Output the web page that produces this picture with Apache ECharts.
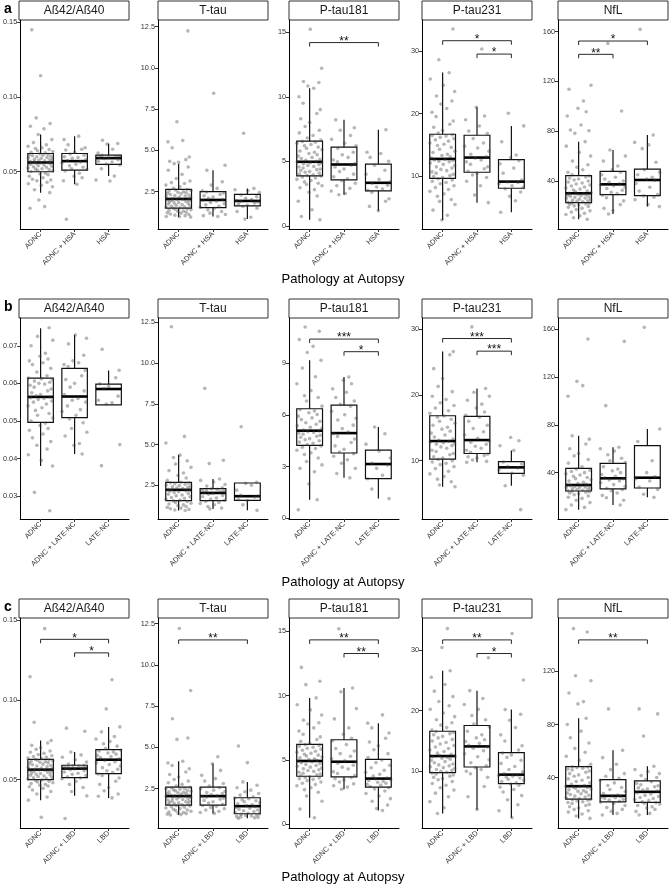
<!DOCTYPE html>
<html>
<head>
<meta charset="utf-8">
<script src="https://cdn.jsdelivr.net/npm/echarts@6/dist/echarts.min.js"></script>
<style>
  html, body { margin: 0; padding: 0; background: #fff; }
  #chart { width: 670px; height: 885px; }
</style>
</head>
<body>
<div id="chart"></div>
<script>
const MARKERS = ['Aß42/Aß40', 'T-tau', 'P-tau181', 'P-tau231', 'NfL'];
const ROW_LETTERS = ['a', 'b', 'c'];
const GROUPS = [
  ['ADNC', 'ADNC + HSA', 'HSA'],
  ['ADNC', 'ADNC + LATE-NC', 'LATE-NC'],
  ['ADNC', 'ADNC + LBD', 'LBD'],
];
const X_TITLE = 'Pathology at Autopsy';

// tick labels per row, per marker
const Y_TICKS = [
  [['0.05', '0.10', '0.15'], ['2.5', '5.0', '7.5', '10.0', '12.5'], ['0', '5', '10', '15'], ['10', '20', '30'], ['40', '80', '120', '160']],
  [['0.03', '0.04', '0.05', '0.06', '0.07'], ['2.5', '5.0', '7.5', '10.0', '12.5'], ['0', '3', '6', '9'], ['10', '20', '30'], ['40', '80', '120', '160']],
  [['0.05', '0.10', '0.15'], ['2.5', '5.0', '7.5', '10.0', '12.5'], ['0', '5', '10', '15'], ['10', '20', '30'], ['40', '80', '120']],
];
const Y_RANGE = [
  [[0.0117, 0.1515], [0.24, 12.9], [-0.25, 15.95], [1.6, 34.9], [1.4, 169.4]],
  [[0.0239, 0.0774], [0.43, 12.77], [-0.03, 11.6], [1.14, 31.7], [1.3, 169.2]],
  [[0.0196, 0.1515], [0.106, 12.84], [-0.28, 16.04], [0.66, 35.25], [2, 160.25]],
];

// box stats [lower whisker, q1, median, q3, upper whisker] per marker, per group
const BOX_A = [
  [[0.036, 0.050, 0.0562, 0.0622, 0.0749], [0.0416, 0.0511, 0.0571, 0.0622, 0.0738], [0.0471, 0.0549, 0.0591, 0.0611, 0.0689]],
  [[0.96, 1.5, 2.06, 2.64, 4.2], [1.0, 1.54, 2.0, 2.5, 3.8], [0.84, 1.64, 1.94, 2.34, 2.7]],
  [[0.46, 3.87, 4.96, 6.56, 10.66], [2.4, 3.56, 4.75, 6.09, 8.21], [1.16, 2.71, 3.33, 4.78, 7.44]],
  [[3.03, 9.68, 12.77, 16.7, 26.54], [5.8, 10.64, 12.98, 16.54, 21.0], [4.26, 8.09, 9.15, 12.66, 18.03]],
  [[9.2, 22.6, 30.1, 44.3, 71.6], [13.5, 29.0, 37.3, 47.8, 64.9], [19.4, 28.2, 40.8, 49.6, 77]],
];
const BOX_B = [
  [[0.038, 0.0496, 0.0564, 0.0614, 0.0747], [0.0412, 0.0509, 0.0565, 0.064, 0.0729], [0.0543, 0.0543, 0.0585, 0.0598, 0.0634]],
  [[0.95, 1.56, 2.22, 2.68, 4.37], [1.05, 1.56, 2.03, 2.29, 2.89], [0.96, 1.57, 1.83, 2.64, 2.64]],
  [[1.08, 4.23, 5.08, 6.35, 9.15], [2.35, 3.79, 4.94, 6.56, 8.19], [1.15, 2.31, 3.15, 3.96, 5.29]],
  [[6.05, 10.25, 12.99, 16.84, 26.6], [9.75, 11.1, 13.14, 16.73, 20.99], [6.2, 8.08, 8.99, 9.85, 11.57]],
  [[9.1, 24.7, 29.7, 43.6, 70.9], [13, 26.4, 35.3, 47.8, 61.2], [19.4, 27.2, 35.8, 62.6, 76.5]],
];
const BOX_C = [
  [[0.0371, 0.05, 0.05625, 0.0627, 0.0746], [0.0398, 0.0513, 0.0569, 0.059, 0.0673], [0.0385, 0.0538, 0.0625, 0.0688, 0.0831]],
  [[0.89, 1.49, 2.04, 2.58, 4.15], [0.99, 1.49, 2.04, 2.58, 4.0], [0.69, 0.97, 1.43, 1.94, 2.9]],
  [[0.52, 3.74, 4.93, 6.22, 9.83], [2.73, 3.69, 4.87, 6.58, 10.6], [1.08, 2.89, 3.56, 5.06, 7.87]],
  [[3.06, 9.78, 12.51, 16.6, 26.56], [3.72, 10.71, 14.1, 17.54, 23.28], [2.35, 7.98, 9.45, 13.06, 20.16]],
  [[9.25, 23.75, 33.5, 48.25, 84.75], [11.75, 21.75, 26.25, 38.5, 60.5], [11.75, 21.25, 29.25, 37.5, 48.5]],
];

// individual observations per marker, per group
const PTS_A = [
  [
    [0.0256, 0.0267, 0.0311, 0.036, 0.038, 0.040, 0.041, 0.042, 0.043, 0.044, 0.0445, 0.045, 0.046, 0.047, 0.048, 0.0485, 0.049, 0.0502, 0.0506, 0.051, 0.0514, 0.0518, 0.052, 0.0525, 0.053, 0.0533, 0.0537, 0.054, 0.0545, 0.055, 0.0553, 0.0556, 0.0558, 0.056, 0.0561, 0.0564, 0.0567, 0.057, 0.0573, 0.0576, 0.058, 0.0583, 0.0586, 0.059, 0.0593, 0.0596, 0.06, 0.0604, 0.0607, 0.061, 0.0614, 0.0617, 0.062, 0.0626, 0.063, 0.0635, 0.064, 0.0648, 0.0655, 0.066, 0.067, 0.068, 0.0695, 0.0715, 0.0749, 0.0787, 0.0804, 0.0822, 0.086, 0.1142, 0.1449],
    [0.0182, 0.0416, 0.044, 0.046, 0.047, 0.049, 0.0505, 0.0515, 0.052, 0.053, 0.054, 0.055, 0.056, 0.0565, 0.0575, 0.058, 0.059, 0.0595, 0.060, 0.061, 0.0618, 0.063, 0.0645, 0.065, 0.066, 0.068, 0.0715, 0.0738],
    [0.0438, 0.0444, 0.0471, 0.052, 0.0545, 0.0552, 0.0565, 0.057, 0.058, 0.0588, 0.0594, 0.0598, 0.060, 0.0605, 0.061, 0.0625, 0.065, 0.0685, 0.0689, 0.0711],
  ],
  [
    [0.96, 0.98, 1.0, 1.05, 1.08, 1.12, 1.15, 1.2, 1.22, 1.25, 1.3, 1.33, 1.37, 1.4, 1.43, 1.46, 1.49, 1.52, 1.55, 1.58, 1.62, 1.65, 1.68, 1.72, 1.75, 1.78, 1.82, 1.85, 1.88, 1.92, 1.95, 1.98, 2.0, 2.03, 2.05, 2.08, 2.1, 2.14, 2.17, 2.2, 2.24, 2.27, 2.3, 2.33, 2.37, 2.4, 2.44, 2.47, 2.5, 2.54, 2.57, 2.6, 2.63, 2.7, 2.8, 2.9, 3.0, 3.05, 3.15, 3.3, 3.55, 3.8, 4.0, 4.2, 4.28, 4.34, 4.44, 4.6, 5.16, 5.52, 5.6, 6.74, 12.24],
    [1.0, 1.05, 1.12, 1.2, 1.3, 1.4, 1.5, 1.56, 1.62, 1.7, 1.78, 1.85, 1.92, 1.98, 2.02, 2.1, 2.18, 2.25, 2.33, 2.42, 2.48, 2.55, 2.7, 2.9, 3.1, 3.8, 4.1, 8.46],
    [0.84, 0.95, 1.3, 1.5, 1.6, 1.68, 1.75, 1.82, 1.88, 1.92, 1.96, 2.02, 2.1, 2.2, 2.3, 2.45, 2.55, 2.62, 2.7, 6.04],
  ],
  [
    [0.46, 0.72, 1.24, 1.9, 2.3, 2.6, 2.8, 2.95, 3.1, 3.2, 3.3, 3.4, 3.5, 3.6, 3.7, 3.78, 3.85, 3.9, 3.95, 4.0, 4.08, 4.15, 4.2, 4.28, 4.35, 4.4, 4.48, 4.55, 4.6, 4.68, 4.75, 4.8, 4.86, 4.9, 4.94, 5.0, 5.08, 5.15, 5.22, 5.3, 5.4, 5.5, 5.6, 5.7, 5.8, 5.9, 6.0, 6.1, 6.2, 6.3, 6.4, 6.48, 6.54, 6.65, 6.8, 7.0, 7.2, 7.4, 7.7, 8.0, 8.3, 8.7, 9.0, 9.5, 10.0, 10.66, 10.84, 11.1, 11.18, 12.21, 15.23],
    [2.4, 2.5, 2.7, 2.9, 3.1, 3.3, 3.5, 3.65, 3.8, 4.0, 4.2, 4.4, 4.55, 4.7, 4.8, 4.95, 5.1, 5.3, 5.5, 5.7, 6.0, 6.2, 6.4, 6.7, 7.0, 7.4, 7.6, 8.21],
    [1.16, 1.5, 1.9, 2.1, 2.6, 2.75, 2.85, 3.0, 3.15, 3.3, 3.4, 3.6, 4.0, 4.3, 4.7, 5.0, 5.3, 5.6, 5.7, 7.44],
  ],
  [
    [3.03, 3.8, 4.6, 5.5, 6.0, 6.3, 6.8, 7.2, 7.6, 7.9, 8.2, 8.5, 8.8, 9.0, 9.2, 9.4, 9.6, 9.8, 9.95, 10.1, 10.3, 10.5, 10.7, 10.9, 11.1, 11.3, 11.5, 11.7, 11.9, 12.1, 12.3, 12.4, 12.5, 12.6, 12.7, 12.9, 13.1, 13.3, 13.5, 13.8, 14.0, 14.3, 14.6, 14.9, 15.1, 15.3, 15.6, 15.8, 16.0, 16.2, 16.4, 16.5, 16.6, 16.9, 17.3, 17.8, 18.3, 18.8, 19.5, 20.2, 20.8, 21.5, 22.0, 22.8, 23.5, 24.5, 25.5, 26.5, 28.56, 33.46],
    [5.8, 7.0, 8.5, 9.2, 9.8, 10.2, 10.5, 10.8, 11.2, 11.5, 11.9, 12.3, 12.6, 12.9, 13.1, 13.5, 14.0, 14.5, 14.8, 15.3, 16.0, 16.8, 17.2, 18.0, 19.0, 19.6, 21.0, 30.27],
    [4.26, 6.1, 6.8, 7.5, 8.0, 8.2, 8.5, 8.8, 9.0, 9.1, 9.4, 10.5, 11.3, 12.0, 12.5, 13.0, 13.4, 15.5, 18.03, 20.05],
  ],
  [
    [9.2, 10.5, 12, 13, 14, 15, 16, 17, 18, 18.8, 19.5, 20, 20.6, 21.2, 21.7, 22.1, 22.4, 22.8, 23.2, 23.6, 24, 24.5, 25, 25.4, 25.9, 26.3, 26.8, 27.2, 27.7, 28.1, 28.5, 28.9, 29.3, 29.7, 30.0, 30.6, 31.3, 32, 32.8, 33.6, 34.4, 35.2, 36, 36.8, 37.6, 38.4, 39.2, 40, 40.8, 41.6, 42.4, 43.2, 44, 45, 47, 49, 51, 53, 56, 60, 63, 68, 71.6, 78.3, 80.4, 81, 85, 92.2, 95.7, 98.4, 104.3, 113.7, 117],
    [13.5, 16, 18, 21, 24, 26.5, 28.5, 29.8, 31, 32.5, 34, 35, 36.2, 37, 37.8, 39, 40, 41.5, 43, 45, 47, 49, 52, 56, 60, 64.9, 96.3, 150.6],
    [19.4, 21, 25, 27, 28, 29, 32, 35, 38, 40.5, 41.5, 43, 45, 47, 49, 55, 66, 69, 71, 77, 161.9],
  ],
];
const PTS_B = [
  [
    [0.0261, 0.031, 0.038, 0.0395, 0.041, 0.0425, 0.0435, 0.0445, 0.0455, 0.0465, 0.0475, 0.048, 0.0488, 0.0494, 0.050, 0.0508, 0.0515, 0.052, 0.0528, 0.0535, 0.054, 0.0545, 0.055, 0.0553, 0.0557, 0.056, 0.0562, 0.0564, 0.0567, 0.057, 0.0575, 0.058, 0.0585, 0.059, 0.0595, 0.0598, 0.060, 0.0603, 0.0606, 0.061, 0.0612, 0.0614, 0.062, 0.063, 0.064, 0.065, 0.0655, 0.066, 0.0665, 0.0672, 0.068, 0.070, 0.0715, 0.0725, 0.0748],
    [0.0412, 0.0435, 0.044, 0.046, 0.047, 0.048, 0.0495, 0.0505, 0.0515, 0.0525, 0.053, 0.054, 0.055, 0.0555, 0.056, 0.057, 0.058, 0.059, 0.060, 0.061, 0.062, 0.0635, 0.0645, 0.065, 0.0655, 0.066, 0.0675, 0.0705, 0.072, 0.0729],
    [0.0381, 0.0437, 0.0545, 0.0548, 0.0555, 0.0566, 0.0586, 0.0592, 0.0599, 0.0615, 0.0635, 0.0691],
  ],
  [
    [0.95, 0.98, 1.02, 1.06, 1.1, 1.15, 1.2, 1.25, 1.3, 1.35, 1.4, 1.45, 1.5, 1.54, 1.6, 1.65, 1.7, 1.75, 1.8, 1.85, 1.9, 1.95, 2.0, 2.05, 2.1, 2.14, 2.17, 2.2, 2.23, 2.26, 2.3, 2.33, 2.37, 2.4, 2.44, 2.48, 2.52, 2.56, 2.6, 2.63, 2.66, 2.69, 2.8, 2.95, 3.1, 3.25, 3.4, 3.6, 3.8, 4.0, 4.2, 4.35, 5.1, 5.5, 12.23],
    [1.05, 1.1, 1.2, 1.3, 1.38, 1.45, 1.52, 1.58, 1.65, 1.72, 1.8, 1.88, 1.95, 2.0, 2.06, 2.1, 2.14, 2.18, 2.22, 2.26, 2.29, 2.35, 2.45, 2.55, 2.7, 2.8, 2.89, 3.83, 4.04, 8.45],
    [0.96, 1.3, 1.56, 1.62, 1.78, 1.84, 1.88, 2.2, 2.5, 2.62, 2.68, 6.09],
  ],
  [
    [0.5, 1.08, 2.0, 2.7, 2.9, 3.1, 3.3, 3.5, 3.7, 3.8, 3.95, 4.05, 4.12, 4.2, 4.28, 4.35, 4.42, 4.5, 4.56, 4.62, 4.7, 4.76, 4.82, 4.88, 4.94, 4.98, 5.02, 5.06, 5.12, 5.2, 5.28, 5.36, 5.45, 5.54, 5.62, 5.72, 5.82, 5.92, 6.02, 6.12, 6.22, 6.3, 6.5, 6.8, 7.0, 7.1, 7.4, 7.8, 8.2, 8.7, 9.15, 9.6, 9.96, 10.35, 10.83, 11.08],
    [2.35, 2.6, 2.9, 3.2, 3.4, 3.6, 3.75, 3.85, 4.0, 4.2, 4.4, 4.6, 4.75, 4.9, 5.0, 5.2, 5.4, 5.7, 5.8, 6.0, 6.2, 6.5, 6.6, 6.8, 7.0, 7.3, 7.5, 7.8, 8.0, 8.19],
    [1.15, 1.7, 2.3, 2.5, 2.9, 3.1, 3.2, 3.5, 3.9, 4.3, 4.9, 5.29],
  ],
  [
    [6.05, 6.3, 6.8, 7.2, 7.6, 8.0, 8.4, 8.8, 9.1, 9.4, 9.6, 9.8, 10.0, 10.2, 10.4, 10.6, 10.9, 11.1, 11.4, 11.6, 11.9, 12.1, 12.3, 12.5, 12.6, 12.75, 12.85, 12.95, 13.1, 13.3, 13.6, 13.9, 14.2, 14.5, 14.8, 15.1, 15.4, 15.7, 16.0, 16.3, 16.6, 16.8, 17.2, 17.6, 18.0, 18.4, 18.8, 19.3, 19.8, 20.5, 21.3, 22.5, 24.0, 26.1, 26.6],
    [9.75, 9.9, 10.1, 10.4, 10.6, 10.8, 11.0, 11.3, 11.6, 11.9, 12.2, 12.5, 12.8, 13.0, 13.4, 13.9, 14.4, 14.9, 15.4, 16.0, 16.6, 16.9, 17.4, 18.0, 18.6, 19.2, 19.8, 20.4, 20.99, 30.35],
    [2.56, 6.2, 7.8, 8.1, 8.6, 8.9, 9.1, 9.5, 9.8, 11.57, 12.28, 13.04, 13.54],
  ],
  [
    [9.1, 11, 13, 15, 17, 18.5, 19.5, 20.5, 21.5, 22.3, 23, 23.6, 24.1, 24.5, 24.9, 25.3, 25.7, 26.1, 26.5, 26.9, 27.3, 27.7, 28.1, 28.5, 28.9, 29.2, 29.4, 29.6, 30.3, 31, 32, 33, 34, 35, 36, 37, 38, 39, 40, 41, 42, 43, 45, 48, 51, 54, 56, 60, 64, 68, 70.9, 103.8, 112.7, 116.3, 151.7],
    [13, 17, 19, 21, 23, 25, 26, 27, 28.5, 30, 31.5, 33, 34, 35, 35.8, 37, 38.5, 40, 41.5, 43, 45, 48.5, 50, 52, 55, 58, 60, 61.2, 96, 149.7],
    [19.4, 22, 26, 28, 33, 35, 36.5, 40, 50, 66, 76.5, 161.4],
  ],
];
const PTS_C = [
  [
    [0.0263, 0.0371, 0.039, 0.041, 0.0425, 0.0435, 0.0445, 0.0455, 0.046, 0.0465, 0.047, 0.0475, 0.048, 0.0485, 0.049, 0.0495, 0.0498, 0.0503, 0.0507, 0.0511, 0.0515, 0.0519, 0.0523, 0.0527, 0.053, 0.0534, 0.0538, 0.0542, 0.0546, 0.055, 0.0553, 0.0556, 0.0559, 0.0561, 0.0562, 0.0565, 0.0569, 0.0573, 0.0577, 0.0581, 0.0585, 0.0589, 0.0593, 0.0597, 0.0601, 0.0605, 0.0609, 0.0613, 0.0616, 0.0619, 0.0622, 0.0624, 0.0626, 0.063, 0.0635, 0.064, 0.0645, 0.065, 0.0657, 0.0665, 0.0672, 0.068, 0.069, 0.070, 0.0715, 0.073, 0.0746, 0.086, 0.1146, 0.1448],
    [0.0256, 0.0398, 0.0425, 0.045, 0.047, 0.049, 0.0505, 0.051, 0.0518, 0.0525, 0.0533, 0.054, 0.0548, 0.0556, 0.0562, 0.0567, 0.057, 0.0573, 0.0576, 0.0579, 0.0582, 0.0585, 0.0588, 0.059, 0.0598, 0.061, 0.0625, 0.064, 0.0655, 0.0673, 0.0804, 0.0823],
    [0.0385, 0.0395, 0.041, 0.043, 0.045, 0.047, 0.049, 0.051, 0.0525, 0.0535, 0.0545, 0.0555, 0.0565, 0.0575, 0.0585, 0.0595, 0.0605, 0.0612, 0.062, 0.063, 0.0638, 0.0645, 0.0652, 0.066, 0.0667, 0.0674, 0.068, 0.0686, 0.0695, 0.071, 0.0725, 0.074, 0.0755, 0.077, 0.08, 0.0831, 0.0944, 0.1127],
  ],
  [
    [0.89, 0.92, 0.95, 0.98, 1.01, 1.05, 1.08, 1.12, 1.16, 1.2, 1.24, 1.28, 1.32, 1.36, 1.4, 1.44, 1.47, 1.51, 1.54, 1.57, 1.6, 1.63, 1.66, 1.7, 1.73, 1.76, 1.8, 1.83, 1.86, 1.9, 1.93, 1.96, 1.99, 2.01, 2.03, 2.06, 2.09, 2.12, 2.15, 2.18, 2.21, 2.24, 2.27, 2.3, 2.33, 2.36, 2.39, 2.42, 2.45, 2.48, 2.51, 2.54, 2.57, 2.65, 2.75, 2.85, 2.95, 3.05, 3.2, 3.35, 3.5, 3.7, 3.9, 4.05, 4.15, 5.48, 5.56, 6.73, 8.44, 12.2],
    [0.99, 1.05, 1.12, 1.2, 1.28, 1.35, 1.42, 1.47, 1.55, 1.62, 1.7, 1.78, 1.85, 1.92, 1.98, 2.02, 2.08, 2.14, 2.2, 2.26, 2.32, 2.4, 2.48, 2.55, 2.65, 2.8, 2.95, 3.1, 3.3, 3.6, 4.0, 4.43],
    [0.69, 0.72, 0.75, 0.78, 0.81, 0.84, 0.87, 0.9, 0.93, 0.96, 1.0, 1.05, 1.1, 1.15, 1.2, 1.25, 1.3, 1.35, 1.4, 1.46, 1.52, 1.58, 1.64, 1.7, 1.76, 1.82, 1.88, 1.92, 2.0, 2.1, 2.2, 2.3, 2.4, 2.55, 2.7, 2.9, 4.07, 5.08],
  ],
  [
    [0.52, 1.19, 1.8, 2.2, 2.5, 2.7, 2.85, 3.0, 3.1, 3.2, 3.3, 3.4, 3.5, 3.55, 3.6, 3.65, 3.7, 3.78, 3.85, 3.92, 3.98, 4.05, 4.12, 4.18, 4.25, 4.32, 4.38, 4.45, 4.52, 4.58, 4.65, 4.72, 4.8, 4.86, 4.91, 4.96, 5.03, 5.1, 5.17, 5.24, 5.31, 5.38, 5.45, 5.52, 5.6, 5.68, 5.76, 5.84, 5.92, 6.0, 6.08, 6.14, 6.2, 6.3, 6.45, 6.6, 6.8, 7.0, 7.25, 7.5, 7.8, 7.9, 8.1, 8.5, 8.9, 9.3, 9.83, 10.86, 11.12, 12.2],
    [2.73, 2.9, 3.0, 3.15, 3.3, 3.45, 3.55, 3.65, 3.8, 3.95, 4.1, 4.3, 4.45, 4.6, 4.75, 4.85, 4.95, 5.1, 5.3, 5.5, 5.7, 5.9, 6.2, 6.5, 6.7, 7.0, 7.5, 8.2, 9.0, 10.3, 10.6, 15.2],
    [1.08, 1.24, 1.5, 1.8, 2.0, 2.2, 2.4, 2.6, 2.75, 2.85, 2.95, 3.05, 3.12, 3.2, 3.28, 3.35, 3.42, 3.48, 3.54, 3.6, 3.75, 3.9, 4.05, 4.2, 4.4, 4.6, 4.8, 5.0, 5.2, 5.5, 5.8, 6.1, 6.4, 6.7, 7.1, 7.5, 7.87, 8.51],
  ],
  [
    [3.06, 4.0, 5.0, 5.8, 6.4, 6.9, 7.3, 7.7, 8.0, 8.3, 8.6, 8.8, 9.0, 9.2, 9.4, 9.55, 9.7, 9.85, 10.0, 10.15, 10.3, 10.45, 10.6, 10.75, 10.9, 11.05, 11.2, 11.4, 11.6, 11.8, 12.0, 12.15, 12.3, 12.4, 12.48, 12.6, 12.8, 13.0, 13.25, 13.5, 13.75, 14.0, 14.25, 14.5, 14.75, 15.0, 15.25, 15.5, 15.75, 16.0, 16.2, 16.4, 16.55, 16.8, 17.2, 17.6, 18.0, 18.5, 19.0, 19.6, 20.2, 20.8, 21.5, 22.3, 23.2, 24.3, 25.5, 26.56, 30.4, 33.5],
    [3.72, 5.8, 7.5, 9.0, 9.6, 10.0, 10.3, 10.6, 10.9, 11.4, 11.9, 12.4, 12.9, 13.4, 13.8, 14.0, 14.3, 14.6, 14.9, 15.2, 15.5, 16.0, 16.6, 17.3, 17.8, 18.5, 19.2, 20.2, 21.0, 22.0, 23.28, 28.7],
    [2.35, 3.5, 4.5, 5.3, 6.0, 6.6, 7.0, 7.4, 7.7, 7.9, 8.1, 8.3, 8.5, 8.7, 8.9, 9.05, 9.2, 9.3, 9.4, 9.6, 9.9, 10.3, 10.8, 11.3, 11.8, 12.3, 12.7, 13.0, 13.5, 14.2, 15.0, 16.0, 17.2, 18.4, 19.4, 20.16, 25.03, 32.7],
  ],
  [
    [9.25, 11, 12.5, 14, 15, 16, 17, 18, 19, 19.8, 20.5, 21.2, 21.8, 22.4, 22.9, 23.3, 23.6, 24.2, 24.8, 25.4, 26, 26.6, 27.2, 27.8, 28.4, 29, 29.6, 30.2, 30.8, 31.4, 32, 32.5, 32.9, 33.2, 33.4, 34, 35, 36, 37, 38, 39, 40, 41, 42, 43, 44, 45, 45.8, 46.5, 47, 47.5, 47.9, 48.1, 50, 53, 56, 59, 62, 66, 70, 75, 80, 84.75, 95.5, 97.25, 103.75, 113, 116.75, 149.75, 152.25],
    [11.75, 13, 14.5, 16, 17.5, 19, 20.5, 21.5, 22.2, 23, 23.6, 24.2, 24.8, 25.3, 25.8, 26.1, 26.8, 28, 29.5, 31, 32.5, 34, 36, 38, 39.5, 41, 43, 46, 50, 55, 60.5, 91.75],
    [11.75, 13, 14.5, 16, 17, 18, 19, 20, 20.6, 21.1, 21.8, 22.6, 23.4, 24.2, 25, 25.8, 26.6, 27.6, 28.6, 29.8, 30.6, 31.4, 32.2, 33, 33.8, 34.6, 35.6, 36.8, 38.5, 40, 41.5, 43, 44.5, 46, 48.5, 71.25, 88, 91.75],
  ],
];

// significance brackets [from group, to group, y, label]
const SIG_A = [[], [], [[0, 2, 14.2, '**']], [[0, 2, 31.6, '*'], [1, 2, 29.47, '*']], [[0, 2, 152.5, '*'], [0, 1, 141.8, '**']]];
const SIG_B = [[], [], [[0, 2, 10.38, '***'], [1, 2, 9.65, '*']], [[0, 2, 28.58, '***'], [1, 2, 26.66, '***']], []];
const SIG_C = [[[0, 2, 0.1381, '*'], [1, 2, 0.1296, '*']], [[0, 2, 11.51, '**']], [[0, 2, 14.34, '**'], [1, 2, 13.28, '**']], [[0, 2, 31.64, '**'], [1, 2, 29.4, '*']], [[0, 2, 143.75, '**']]];

const BOXES = [BOX_A, BOX_B, BOX_C];
const POINTS = [PTS_A, PTS_B, PTS_C];
const SIGS = [SIG_A, SIG_B, SIG_C];

// horizontal jitter pattern for the points
const JITTER = [-0.31, 0.12, -0.05, 0.27, -0.18, 0.35, 0.02, -0.36, 0.19, -0.11, 0.30, -0.24, 0.07, -0.33, 0.22, -0.02, 0.14, -0.28, 0.36, -0.09, 0.25, -0.15, 0.04, -0.37, 0.17, -0.21, 0.33, -0.07, 0.10, -0.30, 0.28, -0.13, 0.00, -0.26, 0.21, 0.31, -0.19];

const PANEL_LEFT = [19, 158, 289, 422, 558];
const PANEL_W = 110;
const STRIP_TOP = [1, 299, 599];
const STRIP_H = 19;
const PLOT_BOTTOM = [229, 519, 828];
const XTITLE_Y = [279, 582, 877];
const BOX_HALF = 0.375;
const FONT = '"Liberation Sans", Arial, Helvetica, sans-serif';
const TICK_TEXT = '#333';

const chart = echarts.init(document.getElementById('chart'));
const grids = [];
const xAxes = [];
const yAxes = [];
const series = [];
const graphics = [];

ROW_LETTERS.forEach((letter, r) => {
  graphics.push({
    type: 'text', left: 4, top: STRIP_TOP[r] + 1,
    style: { text: letter, font: 'bold 14px ' + FONT, fill: '#000' },
  });
  graphics.push({
    type: 'text', x: 343, y: XTITLE_Y[r],
    style: { text: X_TITLE, font: '13px ' + FONT, fill: '#000', align: 'center', verticalAlign: 'middle' },
  });

  MARKERS.forEach((marker, p) => {
    const idx = r * 5 + p;
    const top = STRIP_TOP[r] + STRIP_H;
    const ticks = Y_TICKS[r][p];
    const tickVals = ticks.map(Number);

    grids.push({ left: PANEL_LEFT[p], top, width: PANEL_W, height: PLOT_BOTTOM[r] - top });

    xAxes.push({
      type: 'value', gridIndex: idx, min: 0.4, max: 3.6,
      axisLine: { onZero: false, lineStyle: { color: '#000', width: 1 } },
      axisTick: { customValues: [1, 2, 3], length: 3, lineStyle: { color: '#333' } },
      axisLabel: {
        customValues: [1, 2, 3], rotate: 45, margin: 4, fontSize: 7.3, color: TICK_TEXT, fontFamily: FONT,
        formatter: (v) => GROUPS[r][Math.round(v) - 1] || '',
      },
      splitLine: { show: false },
    });

    yAxes.push({
      type: 'value', gridIndex: idx, min: Y_RANGE[r][p][0], max: Y_RANGE[r][p][1],
      axisLine: { show: true, onZero: false, lineStyle: { color: '#000', width: 1 } },
      axisTick: { show: true, customValues: tickVals, length: 3, lineStyle: { color: '#333' } },
      axisLabel: {
        customValues: tickVals, margin: 3, fontSize: 7.3, color: TICK_TEXT, fontFamily: FONT,
        formatter: (v) => ticks.find((t) => Math.abs(Number(t) - v) < 1e-9) || String(v),
      },
      splitLine: { show: false },
    });

    // facet strip
    graphics.push({
      type: 'rect', shape: { x: PANEL_LEFT[p], y: STRIP_TOP[r], width: PANEL_W, height: STRIP_H },
      style: { fill: '#fff', stroke: '#333', lineWidth: 1 },
    });
    graphics.push({
      type: 'text', x: PANEL_LEFT[p] + PANEL_W / 2, y: STRIP_TOP[r] + STRIP_H / 2 + 0.5,
      style: { text: marker, font: '12px ' + FONT, fill: '#1a1a1a', align: 'center', verticalAlign: 'middle' },
    });

    // boxes
    series.push({
      type: 'custom', xAxisIndex: idx, yAxisIndex: idx, silent: true, z: 2,
      data: BOXES[r][p].map((b, g) => [g + 1, ...b]),
      encode: { x: 0, y: [1, 2, 3, 4, 5] },
      renderItem: (params, api) => {
        const x = api.value(0);
        const lo = api.coord([x, api.value(1)]);
        const q1 = api.coord([x, api.value(2)]);
        const md = api.coord([x, api.value(3)]);
        const q3 = api.coord([x, api.value(4)]);
        const hi = api.coord([x, api.value(5)]);
        const xl = api.coord([x - BOX_HALF, api.value(3)])[0];
        const xr = api.coord([x + BOX_HALF, api.value(3)])[0];
        const cx = lo[0];
        const line = { stroke: '#111', lineWidth: 1.2 };
        return {
          type: 'group',
          children: [
            { type: 'line', shape: { x1: cx, y1: hi[1], x2: cx, y2: q3[1] }, style: line },
            { type: 'line', shape: { x1: cx, y1: q1[1], x2: cx, y2: lo[1] }, style: line },
            { type: 'rect', shape: { x: xl, y: q3[1], width: xr - xl, height: q1[1] - q3[1] }, style: { fill: 'none', stroke: '#111', lineWidth: 1.2 } },
            { type: 'line', shape: { x1: xl, y1: md[1], x2: xr, y2: md[1] }, style: { stroke: '#000', lineWidth: 2.6 } },
          ],
        };
      },
    });

    // jittered observations
    const pts = [];
    POINTS[r][p].forEach((vals, g) => {
      vals.forEach((v, i) => {
        pts.push([g + 1 + JITTER[(i + g * 11 + p * 5 + r * 3) % JITTER.length], v]);
      });
    });
    series.push({
      type: 'scatter', xAxisIndex: idx, yAxisIndex: idx, silent: true, z: 3,
      data: pts, symbolSize: 3.6,
      itemStyle: { color: '#404040', opacity: 0.38 },
    });

    // significance brackets
    const sig = SIGS[r][p];
    series.push({
      type: 'custom', xAxisIndex: idx, yAxisIndex: idx, silent: true, z: 4,
      data: sig.map((s) => [s[0] + 1, s[1] + 1, s[2]]),
      encode: { x: [0, 1], y: 2 },
      renderItem: (params, api) => {
        const a = api.coord([api.value(0), api.value(2)]);
        const b = api.coord([api.value(1), api.value(2)]);
        return {
          type: 'group',
          children: [
            {
              type: 'polyline',
              shape: { points: [[a[0], a[1] + 4], [a[0], a[1]], [b[0], b[1]], [b[0], b[1] + 4]] },
              style: { stroke: '#111', lineWidth: 0.9, fill: null },
            },
            {
              type: 'text',
              style: {
                text: sig[params.dataIndex][3], x: (a[0] + b[0]) / 2, y: a[1] + 5,
                align: 'center', verticalAlign: 'bottom', font: '12px ' + FONT, fill: '#111',
              },
            },
          ],
        };
      },
    });
  });
});

chart.setOption({
  animation: false,
  backgroundColor: '#fff',
  textStyle: { fontFamily: FONT },
  grid: grids,
  xAxis: xAxes,
  yAxis: yAxes,
  series,
  graphic: graphics,
});
</script>
</body>
</html>
